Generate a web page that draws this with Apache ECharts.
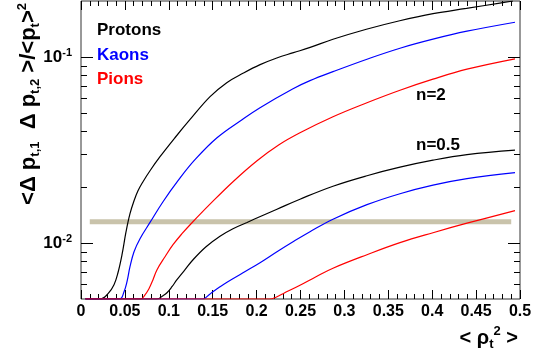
<!DOCTYPE html>
<html><head><meta charset="utf-8">
<script src="https://cdn.jsdelivr.net/npm/echarts/dist/echarts.min.js"></script>
<style>html,body{margin:0;padding:0;background:#fff}#c{width:542px;height:358px}</style>
</head><body><div id="c"></div>
<script>
// ---- data ----
const protonsN2 = [[0.005,0.005],[0.022,0.005],[0.0308,0.00534],[0.0376,0.00597],[0.0421,0.00692],[0.0467,0.00865],[0.0513,0.0115],[0.0558,0.01437],[0.0604,0.01688],[0.0649,0.0191],[0.0706,0.02136],[0.0786,0.02447],[0.090,0.0291],[0.107,0.0368],[0.124,0.046],[0.147,0.0612],[0.166,0.0728],[0.185,0.082],[0.204,0.091],[0.223,0.0988],[0.242,0.1055],[0.261,0.1126],[0.287,0.1245],[0.325,0.141],[0.363,0.1567],[0.401,0.171],[0.439,0.1825],[0.477,0.195],[0.492,0.2]];
const kaonsN2 = [[0.005,0.005],[0.044,0.005],[0.049,0.00547],[0.0524,0.0062],[0.0558,0.00746],[0.0604,0.00898],[0.0672,0.01055],[0.0786,0.0129],[0.0934,0.01667],[0.1105,0.02163],[0.1298,0.02804],[0.1549,0.0368],[0.1834,0.046],[0.2039,0.0534],[0.2415,0.0675],[0.2608,0.0746],[0.287,0.0834],[0.3257,0.0973],[0.3633,0.1115],[0.4009,0.1247],[0.4396,0.1376],[0.4943,0.1538]];
const pionsN2 = [[0.005,0.005],[0.068,0.005],[0.0729,0.00527],[0.0774,0.00568],[0.082,0.00635],[0.0866,0.00719],[0.0957,0.00844],[0.1048,0.00979],[0.115,0.01122],[0.1264,0.01285],[0.1469,0.01617],[0.1731,0.02136],[0.2005,0.0277],[0.2255,0.03377],[0.2494,0.03917],[0.287,0.04775],[0.3257,0.05679],[0.3633,0.06629],[0.4009,0.076],[0.4396,0.086],[0.4943,0.0978]];
const protonsN05 = [[0.005,0.005],[0.0866,0.005],[0.0934,0.00521],[0.0979,0.0054],[0.1036,0.00582],[0.1093,0.00635],[0.1185,0.00719],[0.1276,0.00813],[0.1424,0.00955],[0.1583,0.01088],[0.1731,0.01194],[0.1891,0.0129],[0.2062,0.01402],[0.2232,0.0152],[0.2494,0.0172],[0.287,0.0202],[0.3257,0.023],[0.3633,0.02556],[0.4009,0.02787],[0.4396,0.02984],[0.4943,0.03155]];
const kaonsN05 = [[0.005,0.005],[0.139,0.005],[0.1446,0.00521],[0.1503,0.00547],[0.1583,0.00582],[0.1663,0.00616],[0.1845,0.00692],[0.2039,0.00784],[0.2232,0.00898],[0.2415,0.01016],[0.2608,0.0115],[0.287,0.01343],[0.3257,0.01607],[0.3633,0.01841],[0.4009,0.02046],[0.4396,0.02217],[0.4943,0.02388]];
const pionsN05 = [[0.005,0.005],[0.215,0.005],[0.2221,0.00511],[0.2301,0.00534],[0.2494,0.00593],[0.2677,0.00659],[0.287,0.00732],[0.3257,0.00865],[0.3633,0.01004],[0.4009,0.01136],[0.4396,0.01278],[0.4943,0.01492]];
const bandLevel = [[0.01,0.013],[0.49,0.013]];
const yMajorTicks = [0.01, 0.1];
const yMinorTicks = [0.006,0.007,0.008,0.009,0.02,0.03,0.04,0.05,0.06,0.07,0.08,0.09];
const legendLabels = ['Protons','Kaons','Pions'];
const curveLabels = ['n=2','n=0.5'];

// ---- chart ----
const FONT = '"Liberation Sans", Arial, Helvetica, sans-serif';
const X_MIN = 0, X_MAX = 0.5;
const chart = echarts.init(document.getElementById('c'), null, {renderer:'canvas'});

function lineSeries(data, color, width, z) {
  return {type:'line', data:data, showSymbol:false, symbol:'none', smooth:0.4,
    lineStyle:{color:color, width:width}, z:z, animation:false, silent:true, clip:true};
}
function tickSeries(values, len) {
  return {type:'custom', data: values.map(v => [X_MIN, v]), silent:true, animation:false, clip:false, z:5,
    renderItem: function(params, api) {
      const v = api.value(1);
      const pL = api.coord([X_MIN, v]);
      const pR = api.coord([X_MAX, v]);
      const y = Math.round(pL[1]) + 0.5;
      return {type:'group', children:[
        {type:'line', shape:{x1:pL[0], y1:y, x2:pL[0]+len, y2:y}, style:{stroke:'#000', lineWidth:1}},
        {type:'line', shape:{x1:pR[0]-len, y1:y, x2:pR[0], y2:y}, style:{stroke:'#000', lineWidth:1}}
      ]};
    }};
}
const xAxisCommon = {type:'value', min:X_MIN, max:X_MAX, interval:0.05,
  axisLine:{show:false}, splitLine:{show:false},
  axisTick:{show:true, inside:true, length:9, lineStyle:{color:'#000', width:1}},
  minorTick:{show:true, splitNumber:5, length:5, lineStyle:{color:'#000', width:1}}};

const legendColors = ['#000000','#0000ff','#ff0000'];
const graphics = [];
legendLabels.forEach((t,i) => graphics.push({type:'text', x:97, y:30.5 + i*24.6,
  style:{text:t, fill:legendColors[i], font:'bold 17px ' + FONT, verticalAlign:'middle', align:'left'}}));
graphics.push({type:'text', x:416, y:95, style:{text:curveLabels[0], fill:'#000', font:'bold 17px ' + FONT, verticalAlign:'middle'}});
graphics.push({type:'text', x:416, y:145, style:{text:curveLabels[1], fill:'#000', font:'bold 17px ' + FONT, verticalAlign:'middle'}});
const titleRich = {
  s:{fontSize:13, fontWeight:'bold', fontFamily:FONT, verticalAlign:'bottom', lineHeight:14, fill:'#000'},
  u:{fontSize:13, fontWeight:'bold', fontFamily:FONT, verticalAlign:'top', lineHeight:14, fill:'#000'}
};
graphics.push({type:'text', x:29, y:3, rotation:Math.PI/2,
  style:{text:'<\u0394 p{s|t,1}  \u0394 p{s|t,2} >/<p{s|t}>{u|2}', font:'bold 22px ' + FONT, lineHeight:26, fill:'#000',
    align:'right', verticalAlign:'middle', rich:titleRich}});
graphics.push({type:'text', x:518, y:338,
  style:{text:'< \u03c1{s|t}{u|2} >', font:'bold 20px ' + FONT, lineHeight:26, fill:'#000',
    align:'right', verticalAlign:'middle', rich:titleRich}});

chart.setOption({
  animation:false,
  backgroundColor:'#fff',
  grid:{left:81, right:22, top:1, bottom:59, show:true, borderColor:'#333', borderWidth:1, backgroundColor:'transparent'},
  xAxis:[
    Object.assign({}, xAxisCommon, {position:'bottom',
      axisLabel:{show:true, color:'#000', fontFamily:FONT, fontWeight:'bold', fontSize:16, margin:5}}),
    Object.assign({}, xAxisCommon, {position:'top', axisLabel:{show:false}})
  ],
  yAxis:{type:'log', logBase:10, min:0.005, max:0.2,
    axisLine:{show:false}, axisTick:{show:false}, splitLine:{show:false},
    axisLabel:{show:true, color:'#000', fontFamily:FONT, fontWeight:'bold', fontSize:17, lineHeight:20, margin:9,
      formatter: function(v){
        const e = Math.log10(v); const r = Math.round(e);
        return Math.abs(e - r) < 1e-6 ? '10{sup|' + r + '}' : '';
      },
      rich:{sup:{fontSize:11, fontWeight:'bold', fontFamily:FONT, color:'#000', verticalAlign:'top', lineHeight:12}}}},
  series:[
    lineSeries(bandLevel, '#c9c3ab', 5, 1),
    lineSeries(protonsN2, '#000000', 1.2, 2),
    lineSeries(kaonsN2, '#0000ff', 1.2, 2),
    lineSeries(pionsN2, '#ff0000', 1.2, 2),
    lineSeries(protonsN05, '#000000', 1.2, 2),
    lineSeries(kaonsN05, '#0000ff', 1.2, 2),
    lineSeries(pionsN05, '#ff0000', 1.2, 2),
    tickSeries(yMajorTicks, 12),
    tickSeries(yMinorTicks, 6)
  ],
  graphic: graphics
});
</script></body></html>
